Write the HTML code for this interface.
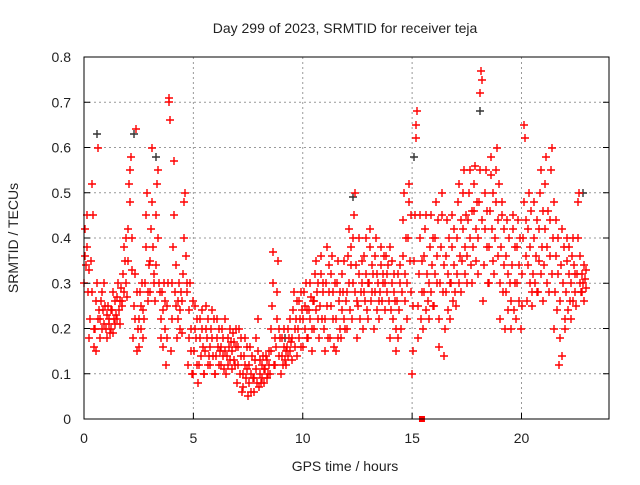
<!DOCTYPE html>
<html><head><meta charset="utf-8"><style>
body{margin:0;background:#fff;}
svg text{font-family:"Liberation Sans",sans-serif;font-size:14px;fill:#222;}
</style></head><body>
<svg id="chart" width="640" height="480" xmlns="http://www.w3.org/2000/svg">
<rect width="640" height="480" fill="#fff"/>
<g id="grid"></g>
<g id="pts"></g>
<rect x="84" y="57" width="525" height="362" fill="none" stroke="#000" stroke-width="1"/>
<g id="ticks"></g>
<text x="345" y="33" text-anchor="middle">Day 299 of 2023, SRMTID for receiver teja</text>
<text x="345" y="471" text-anchor="middle">GPS time / hours</text>
<text x="18" y="238" text-anchor="middle" transform="rotate(-90 18 238)">SRMTID / TECUs</text>
</svg>
<script>
const xTicks=[0,5,10,15,20];
const yTicks=[0,0.1,0.2,0.3,0.4,0.5,0.6,0.7,0.8];
const binStart=0, binWidth=0.25;
const binValues=[
"30 36 42 34 45 38 28 33","18 22 35 28 52 45 20 16","20 15 26 30 60 22 24 18","22 26 20 28 24 21 30 25",
"20 18 23 25 21 22 19 24","20 24 28 19 22 26 21 23","22 27 30 24 21 26 29 25","26 32 38 28 35 30 40 27",
"35 42 52 48 55 58 40 33","18 25 32 22 64 28 15 20","16 22 28 20 25 30 18 24","22 30 38 45 50 28 26 34",
"28 35 42 48 60 38 30 32","26 34 45 52 55 40 30 28","18 22 28 24 16 30 20 26","12 18 25 30 70 71 66 15",
"22 30 38 45 57 28 34 25","18 22 26 30 24 20 28 19","26 32 40 48 50 36 28 30","12 18 24 30 20 15 10 26",
"10 15 20 25 18 12 22 8","12 18 22 14 20 24 16 10","10 15 20 25 18 12 22 14","12 16 20 24 18 14 22 10",
"10 14 18 22 16 12 20 15","12 16 20 14 18 11 22 15","10 14 18 12 16 20 13 17","11 15 19 13 17 12 16 20",
"8 12 16 20 10 14 18 6","7 10 14 18 12 9 16 11","5 8 12 16 10 6 14 9","6 9 13 18 11 8 15 22",
"7 10 13 8 12 9 14 11","8 11 14 9 13 10 15 12","10 15 20 25 30 37 12 18","12 16 22 28 35 14 20 18",
"10 14 18 12 16 20 13 15","12 16 20 14 18 22 15 17","13 18 24 28 16 20 22 26","14 20 26 18 22 28 16 24",
"16 22 28 20 25 30 18 24","18 24 30 22 27 15 20 26","20 26 32 35 24 28 22 30","18 25 32 36 22 28 30 20",
"15 22 30 38 25 18 28 34","18 25 32 36 22 28 16 30","15 22 30 35 18 26 28 20","18 24 32 28 22 35 20 26",
"20 28 36 42 30 24 34 38","22 30 40 45 50 28 34 26","18 25 32 40 22 28 35 30","20 28 36 26 32 40 24 30",
"22 30 38 42 26 34 28 32","20 28 36 40 24 32 30 26","22 28 34 38 26 30 32 36","24 30 36 32 28 34 26 38",
"18 24 30 35 22 28 32 26","15 20 26 32 18 24 30 34","20 28 36 44 50 32 26 40","22 30 40 48 52 35 28 45",
"10 15 25 35 45 62 65 68","18 25 32 40 45 22 28 35","20 28 36 42 45 24 32 26","22 30 38 45 28 34 40 25",
"25 32 40 48 30 36 44 16","22 30 38 45 50 28 34 14","20 28 36 44 24 32 40 30","22 30 38 45 26 34 42 28",
"25 32 40 48 52 30 36 44","28 35 42 50 55 32 38 45","30 36 44 50 55 40 34 46","30 38 46 52 56 42 35 48",
"32 40 48 55 72 77 75 44","26 34 42 50 55 38 46 30","30 38 46 54 58 42 50 35","32 40 48 55 60 44 36 52",
"22 30 38 45 48 28 34 42","20 28 36 44 24 32 40 30","20 26 34 42 45 24 30 38","22 30 38 44 26 34 40 20",
"25 32 40 48 65 62 36 44","26 34 42 50 30 38 46 28","25 32 40 48 30 36 44 28","28 35 42 50 55 32 38 46",
"26 34 42 52 58 30 38 46","28 36 44 55 60 32 40 48","20 28 36 44 24 32 40 12","18 26 34 42 14 30 38 22",
"20 28 35 40 24 32 38 26","22 30 36 40 26 34 28 32","25 32 40 48 50 30 36 28","28 32 30 34 26 31 29 33"
];
const blackTimes=[0.6,2.3,3.3,9.2,12.3,15.1,18.1,22.8];
const blackValues=[0.63,0.63,0.58,0.18,0.49,0.58,0.68,0.5];
const zeroTimes=[15.45];
const zeroValues=[0];
const X=t=>84+t*21.875;
const Y=v=>419-v*452.5;
const NS="http://www.w3.org/2000/svg";
function mk(tag,attrs,parent){const e=document.createElementNS(NS,tag);for(const k in attrs)e.setAttribute(k,attrs[k]);parent.appendChild(e);return e;}
const grid=document.getElementById('grid'),ticks=document.getElementById('ticks'),pts=document.getElementById('pts');
xTicks.forEach(t=>{
  if(t>0){const l=mk('line',{x1:X(t),x2:X(t),y1:57,y2:419,stroke:'#999','stroke-dasharray':'2,3'},grid);
  
  }
  const tk=mk('line',{x1:X(t),x2:X(t),y1:419,y2:413,stroke:'#000'},ticks);
  
  
  const tx=mk('text',{x:X(t),y:443,'text-anchor':'middle'},ticks);tx.textContent=t;
  
  
});
yTicks.forEach(v=>{
  if(v>0&&v<0.8){const l=mk('line',{x1:84,x2:609,y1:Y(v),y2:Y(v),stroke:'#999','stroke-dasharray':'2,3'},grid);
  
  }
  const tk=mk('line',{x1:84,x2:90,y1:Y(v),y2:Y(v),stroke:'#000'},ticks);
  
  
  const tk2=mk('line',{x1:603,x2:609,y1:Y(v),y2:Y(v),stroke:'#000'},ticks);
  
  
  const tx=mk('text',{x:71,y:Y(v)+5,'text-anchor':'end'},ticks);tx.textContent=v===0?'0':v.toFixed(1);
  
  
});
function plus(t,v,col){
  const x=Math.round(X(t)),y=Math.round(Y(v));
  const p=mk('path',{d:`M${x-4} ${y}H${x+4}M${x} ${y-4}V${y+4}`,stroke:col,'stroke-width':1.4,fill:'none'},pts);
  
  
}
blackTimes.forEach((t,i)=>plus(t,blackValues[i],'#333'));
binValues.forEach((s,b)=>{
  s.split(' ').forEach((n,j)=>{plus(binStart+b*binWidth+j*0.031,Number(n)/100,'#f00');});
});
zeroTimes.forEach((t,i)=>{
  const r=mk('rect',{x:X(t)-3,y:Y(zeroValues[i])-3,width:6,height:6,fill:'#f00'},pts);
  
  
});
</script>
</body></html>
